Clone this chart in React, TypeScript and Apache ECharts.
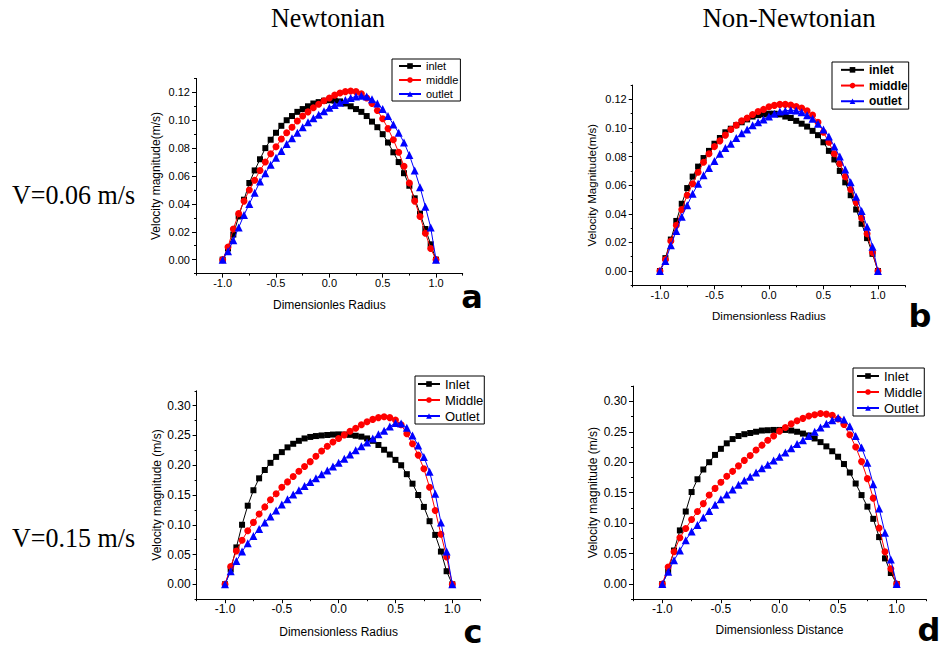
import React, { useEffect, useRef } from "react";
import * as echarts from "echarts";

// Shared dimensionless radial positions
const X = [
  -1.0, -0.95, -0.9, -0.85, -0.8, -0.75, -0.7, -0.65, -0.6, -0.55, -0.5, -0.45, -0.4, -0.35, -0.3,
  -0.25, -0.2, -0.15, -0.1, -0.05, 0.0, 0.05, 0.1, 0.15, 0.2, 0.25, 0.3, 0.35, 0.4, 0.45, 0.5,
  0.55, 0.6, 0.65, 0.7, 0.75, 0.8, 0.85, 0.9, 0.95, 1.0,
];

// (a) Newtonian, V = 0.06 m/s
const aInlet = [0, 0.008, 0.018, 0.031, 0.043, 0.055, 0.064, 0.072, 0.080, 0.086, 0.091, 0.096, 0.100, 0.103, 0.106, 0.108, 0.110, 0.112, 0.113, 0.114, 0.1143, 0.114, 0.1135, 0.112, 0.110, 0.108, 0.106, 0.103, 0.099, 0.095, 0.090, 0.084, 0.077, 0.070, 0.062, 0.053, 0.044, 0.033, 0.022, 0.011, 0];
const aMiddle = [0, 0.009, 0.022, 0.033, 0.042, 0.050, 0.057, 0.064, 0.070, 0.076, 0.081, 0.0865, 0.091, 0.095, 0.0995, 0.103, 0.106, 0.109, 0.1115, 0.114, 0.116, 0.118, 0.1195, 0.1205, 0.121, 0.1205, 0.119, 0.116, 0.112, 0.107, 0.101, 0.094, 0.086, 0.077, 0.067, 0.055, 0.042, 0.031, 0.019, 0.008, 0];
const aOutlet = [0, 0.006, 0.014, 0.023, 0.032, 0.040, 0.048, 0.056, 0.062, 0.068, 0.073, 0.078, 0.083, 0.087, 0.091, 0.095, 0.0985, 0.1015, 0.104, 0.1065, 0.109, 0.111, 0.1125, 0.1145, 0.116, 0.117, 0.1175, 0.117, 0.115, 0.112, 0.108, 0.103, 0.097, 0.091, 0.084, 0.075, 0.064, 0.052, 0.038, 0.023, 0];

// (b) Non-Newtonian, V = 0.06 m/s
const bInlet = [0, 0.009, 0.022, 0.035, 0.047, 0.058, 0.066, 0.073, 0.079, 0.084, 0.089, 0.093, 0.097, 0.0995, 0.102, 0.104, 0.106, 0.108, 0.109, 0.1095, 0.110, 0.110, 0.1095, 0.108, 0.107, 0.105, 0.103, 0.101, 0.098, 0.095, 0.090, 0.084, 0.078, 0.070, 0.062, 0.053, 0.043, 0.033, 0.023, 0.012, 0];
const bMiddle = [0, 0.008, 0.021, 0.032, 0.043, 0.053, 0.061, 0.069, 0.076, 0.082, 0.087, 0.091, 0.095, 0.099, 0.102, 0.105, 0.107, 0.1095, 0.1115, 0.113, 0.1148, 0.1158, 0.1165, 0.1165, 0.116, 0.115, 0.114, 0.112, 0.109, 0.104, 0.097, 0.090, 0.082, 0.075, 0.066, 0.057, 0.048, 0.037, 0.026, 0.013, 0];
const bOutlet = [0, 0.007, 0.018, 0.028, 0.038, 0.046, 0.054, 0.061, 0.067, 0.072, 0.077, 0.082, 0.086, 0.089, 0.093, 0.0963, 0.099, 0.102, 0.104, 0.106, 0.108, 0.110, 0.1115, 0.112, 0.1125, 0.1122, 0.111, 0.109, 0.1065, 0.103, 0.099, 0.094, 0.087, 0.080, 0.071, 0.062, 0.052, 0.042, 0.031, 0.017, 0];

// (c) Newtonian, V = 0.15 m/s
const cInlet = [0, 0.025, 0.062, 0.100, 0.132, 0.158, 0.178, 0.192, 0.204, 0.214, 0.222, 0.230, 0.236, 0.241, 0.245, 0.2475, 0.249, 0.250, 0.2508, 0.2515, 0.2518, 0.2515, 0.251, 0.2495, 0.248, 0.245, 0.241, 0.234, 0.226, 0.218, 0.209, 0.200, 0.185, 0.169, 0.150, 0.130, 0.106, 0.083, 0.055, 0.022, 0];
const cMiddle = [0, 0.030, 0.056, 0.074, 0.090, 0.104, 0.118, 0.130, 0.142, 0.152, 0.163, 0.172, 0.181, 0.190, 0.198, 0.206, 0.215, 0.224, 0.232, 0.239, 0.245, 0.251, 0.257, 0.262, 0.268, 0.273, 0.277, 0.280, 0.2815, 0.280, 0.276, 0.268, 0.253, 0.236, 0.217, 0.194, 0.163, 0.124, 0.084, 0.046, 0];
const cOutlet = [0, 0.022, 0.039, 0.055, 0.069, 0.081, 0.093, 0.104, 0.114, 0.124, 0.134, 0.143, 0.151, 0.158, 0.165, 0.172, 0.178, 0.185, 0.191, 0.198, 0.204, 0.211, 0.218, 0.225, 0.232, 0.238, 0.245, 0.252, 0.258, 0.265, 0.271, 0.270, 0.263, 0.250, 0.233, 0.214, 0.189, 0.152, 0.104, 0.055, 0];

// (d) Non-Newtonian, V = 0.15 m/s
const dInlet = [0, 0.021, 0.055, 0.088, 0.119, 0.151, 0.172, 0.188, 0.200, 0.212, 0.222, 0.231, 0.238, 0.243, 0.246, 0.248, 0.250, 0.252, 0.2525, 0.253, 0.253, 0.253, 0.252, 0.250, 0.247, 0.244, 0.239, 0.233, 0.226, 0.218, 0.209, 0.197, 0.183, 0.165, 0.146, 0.127, 0.107, 0.077, 0.042, 0.018, 0];
const dMiddle = [0, 0.028, 0.053, 0.076, 0.091, 0.106, 0.119, 0.132, 0.146, 0.157, 0.167, 0.177, 0.185, 0.194, 0.203, 0.211, 0.220, 0.228, 0.236, 0.243, 0.251, 0.257, 0.263, 0.268, 0.272, 0.276, 0.278, 0.280, 0.279, 0.277, 0.271, 0.262, 0.245, 0.225, 0.201, 0.173, 0.141, 0.092, 0.053, 0.025, 0];
const dOutlet = [0, 0.020, 0.039, 0.055, 0.072, 0.086, 0.097, 0.109, 0.120, 0.130, 0.139, 0.147, 0.155, 0.163, 0.170, 0.176, 0.183, 0.190, 0.196, 0.203, 0.209, 0.216, 0.223, 0.230, 0.236, 0.243, 0.250, 0.257, 0.263, 0.269, 0.273, 0.270, 0.259, 0.243, 0.224, 0.199, 0.164, 0.124, 0.084, 0.040, 0];

// Tick labels
const xTicks = [-1.0, -0.5, 0.0, 0.5, 1.0];
const yTicksLow = [0, 0.02, 0.04, 0.06, 0.08, 0.1, 0.12];
const yTicksHigh = [0, 0.05, 0.1, 0.15, 0.2, 0.25, 0.3];

const namesLower = ["inlet", "middle", "outlet"];
const namesUpper = ["Inlet", "Middle", "Outlet"];

const COLORS = ["#000000", "#ff0000", "#0000ff"];
const SYMBOLS = ["rect", "circle", "triangle"];
const SYM_SIZES = [6, 7, 8];
const SANS = "'Liberation Sans', Arial, Helvetica, sans-serif";
const SERIF = "'Liberation Serif', 'Times New Roman', serif";

type Panel = {
  data: number[][];
  names: string[];
  grid: { left: number; top: number; width: number; height: number };
  yMin: number;
  yMax: number;
  yStep: number;
  yTicks: number[];
  labelSize: number;
  xName: string;
  yName: string;
  nameSize: number;
  xNameGap: number;
  yNameGap: number;
  legend: {
    left: number;
    top: number;
    padding: number[];
    itemWidth: number;
    fontSize: number;
    lineHeight: number;
    bold: boolean;
  };
};

const panels: Panel[] = [
  {
    data: [aInlet, aMiddle, aOutlet],
    names: namesLower,
    grid: { left: 196, top: 78.4, width: 266.7, height: 195.2 },
    yMin: -0.01, yMax: 0.13, yStep: 0.01, yTicks: yTicksLow,
    labelSize: 11, xName: "Dimensionles Radius", yName: "Velocity magnitude(m/s)",
    nameSize: 12, xNameGap: 25, yNameGap: 34,
    legend: { left: 392, top: 59, padding: [0, 2, 0, 6], itemWidth: 22, fontSize: 11, lineHeight: 14, bold: false },
  },
  {
    data: [bInlet, bMiddle, bOutlet],
    names: namesLower,
    grid: { left: 632.7, top: 85.1, width: 272.5, height: 200.2 },
    yMin: -0.01, yMax: 0.13, yStep: 0.01, yTicks: yTicksLow,
    labelSize: 11, xName: "Dimensionless Radius", yName: "Velocity Magnitude(m/s)",
    nameSize: 11.5, xNameGap: 25, yNameGap: 35,
    legend: { left: 832, top: 62, padding: [0, 1, 0, 8], itemWidth: 23, fontSize: 12, lineHeight: 15.7, bold: true },
  },
  {
    data: [cInlet, cMiddle, cOutlet],
    names: namesUpper,
    grid: { left: 196.6, top: 390.8, width: 284.1, height: 208.4 },
    yMin: -0.025, yMax: 0.325, yStep: 0.025, yTicks: yTicksHigh,
    labelSize: 12, xName: "Dimensionless Radius", yName: "Velocity magnitude (m/s)",
    nameSize: 12, xNameGap: 27, yNameGap: 34,
    legend: { left: 415, top: 376, padding: [0, 1, 0, 2], itemWidth: 22, fontSize: 13, lineHeight: 16, bold: false },
  },
  {
    data: [dInlet, dMiddle, dOutlet],
    names: namesUpper,
    grid: { left: 633, top: 386.1, width: 293, height: 213.1 },
    yMin: -0.025, yMax: 0.325, yStep: 0.025, yTicks: yTicksHigh,
    labelSize: 12, xName: "Dimensionless Distance", yName: "Velocity magnitude (m/s)",
    nameSize: 12, xNameGap: 25, yNameGap: 34,
    legend: { left: 853, top: 368, padding: [0, 2, 0, 3], itemWidth: 22, fontSize: 13, lineHeight: 16, bold: false },
  },
];

function buildOption() {
  const grid: any[] = [];
  const xAxis: any[] = [];
  const yAxis: any[] = [];
  const series: any[] = [];
  const legend: any[] = [];

  panels.forEach((p, g) => {
    grid.push({ ...p.grid, containLabel: false, outerBoundsMode: "none" });
    const labelStyle = { color: "#000", fontFamily: SANS, fontSize: p.labelSize };
    const nameStyle = { color: "#000", fontFamily: SANS, fontSize: p.nameSize };
    // main x axis
    xAxis.push({
      type: "value", gridIndex: g, position: "bottom", min: -1.25, max: 1.25,
      axisLine: { show: true, onZero: false, lineStyle: { color: "#000", width: 1 } },
      axisTick: { show: true, inside: false, length: 4, customValues: xTicks, lineStyle: { color: "#000" } },
      axisLabel: { ...labelStyle, margin: 4, customValues: xTicks, formatter: (v: number) => v.toFixed(1) },
      splitLine: { show: false },
      name: p.xName, nameLocation: "middle", nameGap: p.xNameGap, nameTextStyle: nameStyle,
    });
    // minor x ticks
    xAxis.push({
      type: "value", gridIndex: g, position: "bottom", min: -1.25, max: 1.25, interval: 0.25,
      axisLine: { show: false, onZero: false },
      axisTick: { show: true, inside: false, length: 2, lineStyle: { color: "#000" } },
      axisLabel: { show: false },
      splitLine: { show: false },
    });
    // main y axis
    yAxis.push({
      type: "value", gridIndex: g, position: "left", min: p.yMin, max: p.yMax,
      axisLine: { show: true, onZero: false, lineStyle: { color: "#000", width: 1 } },
      axisTick: { show: true, inside: false, length: 4, customValues: p.yTicks, lineStyle: { color: "#000" } },
      axisLabel: { ...labelStyle, margin: 6, customValues: p.yTicks, formatter: (v: number) => v.toFixed(2) },
      splitLine: { show: false },
      name: p.yName, nameLocation: "middle", nameGap: p.yNameGap, nameRotate: 90, nameTextStyle: nameStyle,
    });
    // minor y ticks
    yAxis.push({
      type: "value", gridIndex: g, position: "left", min: p.yMin, max: p.yMax, interval: p.yStep,
      axisLine: { show: false, onZero: false },
      axisTick: { show: true, inside: false, length: 2, lineStyle: { color: "#000" } },
      axisLabel: { show: false },
      splitLine: { show: false },
    });

    p.data.forEach((ys, k) => {
      series.push({
        type: "line",
        name: p.names[k],
        xAxisIndex: 2 * g,
        yAxisIndex: 2 * g,
        data: X.map((x, i) => [x, ys[i]]),
        symbol: SYMBOLS[k],
        symbolSize: SYM_SIZES[k],
        showSymbol: true,
        lineStyle: { color: COLORS[k], width: 1 },
        itemStyle: { color: COLORS[k] },
        z: 2 + k,
      });
    });

    legend.push({
      show: true,
      orient: "vertical",
      left: p.legend.left,
      top: p.legend.top,
      padding: p.legend.padding,
      itemGap: 0,
      itemWidth: p.legend.itemWidth,
      itemHeight: 7,
      borderColor: "#000",
      borderWidth: 1,
      backgroundColor: "#fff",
      selectedMode: false,
      data: p.names,
      textStyle: {
        color: "#000",
        fontFamily: SANS,
        fontSize: p.legend.fontSize,
        lineHeight: p.legend.lineHeight,
        fontWeight: p.legend.bold ? "bold" : "normal",
      },
    });
  });

  const txt = (text: string, x: number, y: number, font: string, align: string, scaleX = 1) => ({
    type: "text",
    x,
    y,
    scaleX,
    style: {
      text,
      font,
      fill: "#000",
      textAlign: align,
      align,
      textVerticalAlign: "middle",
      verticalAlign: "middle",
    },
  });

  const LETTER = `bold 32px 'DejaVu Sans', sans-serif`;
  const graphic = [
    txt("Newtonian", 328, 18, `28px ${SERIF}`, "center", 0.93),
    txt("Non-Newtonian", 789, 18, `28px ${SERIF}`, "center", 0.96),
    txt("V=0.06 m/s", 12, 195, `28px ${SERIF}`, "left", 0.93),
    txt("V=0.15 m/s", 12, 538, `28px ${SERIF}`, "left", 0.93),
    txt("a", 472, 297, LETTER, "center"),
    txt("b", 920, 316, LETTER, "center"),
    txt("c", 473, 632, LETTER, "center"),
    txt("d", 929, 630, LETTER, "center"),
  ];

  return {
    animation: false,
    backgroundColor: "#ffffff",
    grid,
    xAxis,
    yAxis,
    series,
    legend,
    graphic,
  };
}

export default function App() {
  const ref = useRef<HTMLDivElement>(null);
  useEffect(() => {
    if (!ref.current) return;
    const chart = echarts.init(ref.current, null, { renderer: "svg", width: 944, height: 651 });
    chart.setOption(buildOption() as any);
    return () => {
      chart.dispose();
    };
  }, []);
  return (
    <div
      ref={ref}
      style={{ position: "fixed", left: 0, top: 0, width: 944, height: 651, background: "#fff" }}
    />
  );
}
